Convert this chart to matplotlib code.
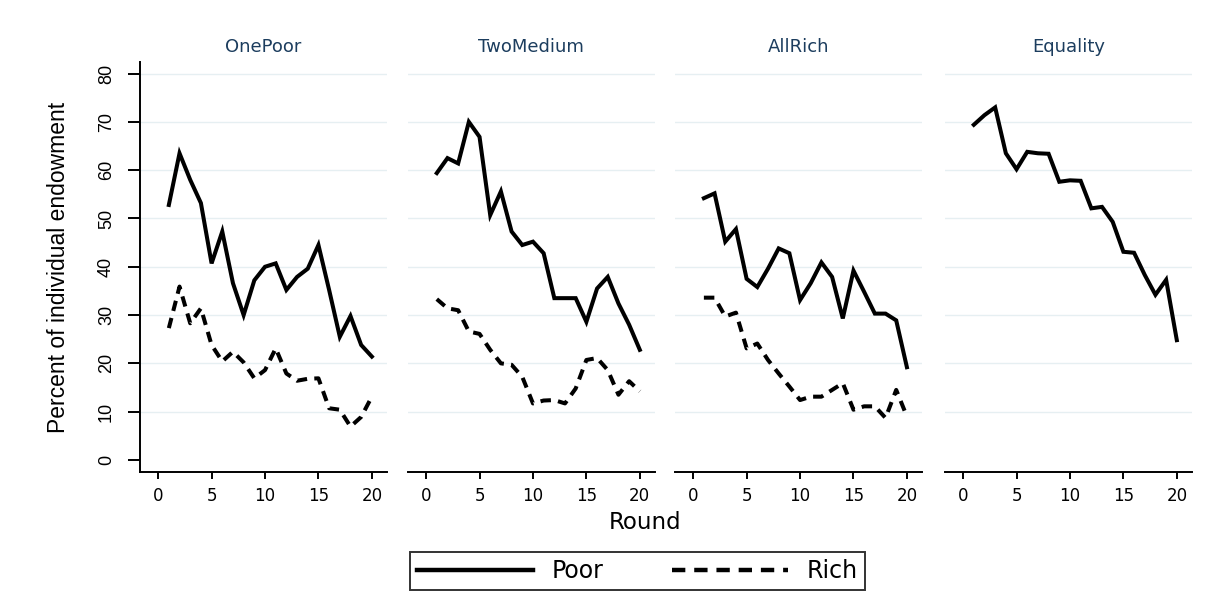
#!/usr/bin/env python3
"""
Contributions by round, split by treatment (Poor vs Rich members)
"""

import matplotlib.pyplot as plt
from matplotlib.lines import Line2D

rounds = list(range(1, 21))
treatments = ['OnePoor', 'TwoMedium', 'AllRich', 'Equality']

poor_onepoor = [52.8, 63.5, 58.0, 53.2, 40.7, 47.3, 36.6, 30.0, 37.2, 40.0,
                40.7, 35.2, 37.9, 39.6, 44.5, 35.2, 25.5, 29.8, 23.8, 21.4]
rich_onepoor = [27.3, 35.9, 28.3, 31.4, 23.8, 20.4, 22.4, 20.2, 16.9, 18.6,
                23.1, 17.9, 16.4, 16.8, 16.9, 10.7, 10.4, 6.9, 8.9, 13.1]

poor_twomedium = [59.4, 62.5, 61.4, 70.0, 66.9, 50.7, 55.6, 47.3, 44.5, 45.2,
                  42.8, 33.5, 33.5, 33.5, 28.6, 35.5, 37.9, 32.4, 28.0, 22.8]
rich_twomedium = [33.3, 31.4, 31.0, 26.6, 26.1, 22.8, 20.0, 19.7, 17.2, 11.7,
                  12.3, 12.4, 11.7, 14.8, 20.7, 21.1, 18.6, 13.5, 16.3, 14.2]

poor_allrich = [54.2, 55.2, 45.2, 47.8, 37.5, 35.8, 39.6, 43.8, 42.8, 33.1,
                36.6, 40.9, 37.9, 29.3, 39.2, 34.8, 30.3, 30.3, 28.9, 19.2]
rich_allrich = [33.6, 33.6, 29.7, 30.5, 23.1, 24.1, 20.7, 17.9, 15.2, 12.4,
                13.1, 13.1, 14.5, 15.9, 10.4, 11.1, 11.1, 8.7, 14.5, 9.0]

poor_equality = [69.4, 71.4, 73.0, 63.5, 60.2, 63.8, 63.5, 63.4, 57.6, 57.9,
                 57.8, 52.1, 52.4, 49.3, 43.1, 42.9, 38.3, 34.2, 37.3, 24.8]

poor_series = [poor_onepoor, poor_twomedium, poor_allrich, poor_equality]
rich_series = [rich_onepoor, rich_twomedium, rich_allrich, None]

x_ticks = [0, 5, 10, 15, 20]
y_ticks = [0, 10, 20, 30, 40, 50, 60, 70, 80]

# wide font for horizontal text, Arial-like for rotated text
plt.rcParams['font.family'] = ['DejaVu Sans']
narrow = ['Liberation Sans', 'DejaVu Sans']

title_color = '#1c3d5e'
grid_color = '#e6eff2'
lw = 2.9
dash = (0, (2.6, 1.8))

fig = plt.figure(figsize=(12.28, 5.98), dpi=100)
lefts = [0.114, 0.3322, 0.5497, 0.7695]
bottom, width, height = 0.2107, 0.201, 0.6856

for i, name in enumerate(treatments):
    ax = fig.add_axes([lefts[i], bottom, width, height])
    ax.set_xlim(-1.7, 21.4)
    ax.set_ylim(-2.5, 82.4)
    ax.set_yticks(y_ticks)
    ax.set_xticks(x_ticks)
    for yv in y_ticks[1:]:
        ax.axhline(yv, color=grid_color, linewidth=1.0, zorder=0)

    ax.plot(rounds, poor_series[i], color='black', linewidth=lw,
            solid_joinstyle='miter', zorder=3)
    if rich_series[i] is not None:
        ax.plot(rounds, rich_series[i], color='black', linewidth=lw,
                linestyle=dash, zorder=3)

    ax.set_title(name, fontsize=13, color=title_color, pad=7)
    for side in ['top', 'right']:
        ax.spines[side].set_visible(False)
    ax.spines['bottom'].set_linewidth(1.4)
    ax.tick_params(axis='x', length=5, width=1.4, labelsize=12, pad=6)

    if i == 0:
        ax.spines['left'].set_linewidth(1.4)
        ax.tick_params(axis='y', length=9, width=1.4, pad=9)
        ax.set_yticklabels([str(v) for v in y_ticks], rotation=90,
                           va='center', family=narrow, fontsize=13)
        ax.set_ylabel('Percent of individual endowment', fontsize=16.5,
                      family=narrow, labelpad=20)
    else:
        ax.spines['left'].set_visible(False)
        ax.tick_params(axis='y', left=False, labelleft=False)

fig.text(0.525, 0.127, 'Round', ha='center', va='center', fontsize=16.5)

handles = [Line2D([], [], color='black', linewidth=3.2),
           Line2D([], [], color='black', linewidth=3.2, linestyle=(0, (3, 2)))]
leg = fig.legend(handles, ['Poor', 'Rich'], loc='center',
                 bbox_to_anchor=(0.519, 0.0455), ncol=2, fontsize=17,
                 frameon=True, fancybox=False, handlelength=4.9,
                 columnspacing=2.9, borderpad=0.3, handletextpad=0.8,
                 borderaxespad=0)
leg.get_frame().set_edgecolor('black')
leg.get_frame().set_linewidth(1.4)

fig.savefig('out.png', dpi=100, facecolor='white')
